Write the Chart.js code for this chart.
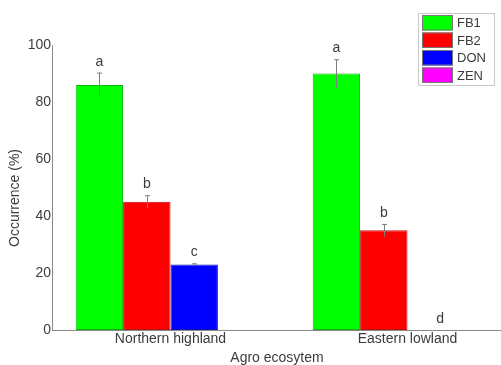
<!DOCTYPE html>
<html>
<head>
<meta charset="utf-8">
<script src="https://cdn.jsdelivr.net/npm/chart.js@4/dist/chart.umd.min.js"></script>
<style>
  html, body { margin: 0; padding: 0; background: #fff; overflow: hidden; }
  #wrap { position: absolute; left: 0; top: 0; width: 527px; height: 365px; }
</style>
</head>
<body>
<div id="wrap"><canvas id="c" width="527" height="365"></canvas></div>
<script>
// Agro-ecosystem groups
const categories = ['Northern highland', 'Eastern lowland'];

// Mycotoxin occurrence (%) per ecosystem
const toxins = ['FB1', 'FB2', 'DON', 'ZEN'];
const fb1 = [86, 90];
const fb2 = [45, 35];
const don = [23, 0];
const zen = [0, 0];

// Standard errors
const fb1Err = [4.3, 5];
const fb2Err = [2.3, 2.2];
const donErr = [0.4, 0];
const zenErr = [0, 0];

// Mean separation letters
const fb1Sig = ['a', 'a'];
const fb2Sig = ['b', 'b'];
const donSig = ['c', 'd'];
const zenSig = ['', ''];

const yTicks = [0, 20, 40, 60, 80, 100];

const fills = ['#00ff00', '#ff0000', '#0000ff', '#ff00ff'];
const edges = ['#10b010', '#c01010', '#1010b0', '#b010b0'];

const values = [fb1, fb2, don, zen];
const errors = [fb1Err, fb2Err, donErr, zenErr];
const letters = [fb1Sig, fb2Sig, donSig, zenSig];

const FONT = '"Liberation Sans", Arial, sans-serif';
const TXT = '#3c3c3c';

// Error whiskers, significance letters, boxed legend, axis titles
const annotate = {
  id: 'annotate',
  afterDatasetsDraw(chart) {
    const ctx = chart.ctx;
    const y = chart.scales.y;
    ctx.save();
    chart.data.datasets.forEach((ds, di) => {
      const meta = chart.getDatasetMeta(di);
      meta.data.forEach((bar, i) => {
        const v = values[di][i];
        const e = errors[di][i];
        const x = bar.x;
        if (e > 0) {
          const yt = y.getPixelForValue(v + e);
          const yb = y.getPixelForValue(v - e);
          ctx.strokeStyle = '#808080';
          ctx.lineWidth = 1;
          ctx.beginPath();
          ctx.moveTo(Math.round(x) + 0.5, yt);
          ctx.lineTo(Math.round(x) + 0.5, yb);
          ctx.moveTo(Math.round(x) - 2, yt + 0.5);
          ctx.lineTo(Math.round(x) + 3, yt + 0.5);
          ctx.stroke();
        }
        const s = letters[di][i];
        if (s) {
          const top = y.getPixelForValue(v + e);
          const dx = (v === 0) ? 9 : 0;
          ctx.fillStyle = TXT;
          ctx.font = '14px ' + FONT;
          ctx.textAlign = 'center';
          ctx.textBaseline = 'bottom';
          ctx.fillText(s, x + dx, top - 4);
        }
      });
    });

    // legend box
    const lx = 418, ly = 13, lw = 76, rowH = 17.5;
    ctx.fillStyle = '#fff';
    ctx.fillRect(lx, ly, lw, rowH * toxins.length + 2);
    ctx.strokeStyle = '#c8c8c8';
    ctx.lineWidth = 1;
    ctx.strokeRect(lx + 0.5, ly + 0.5, lw, rowH * toxins.length + 2);
    toxins.forEach((t, k) => {
      const ry = ly + 2 + k * rowH;
      ctx.fillStyle = fills[k];
      ctx.fillRect(lx + 4, ry, 31, 15.5);
      ctx.strokeStyle = '#777';
      ctx.strokeRect(lx + 4.5, ry + 0.5, 30, 14.5);
      ctx.fillStyle = TXT;
      ctx.font = '13px ' + FONT;
      ctx.textAlign = 'left';
      ctx.textBaseline = 'middle';
      ctx.fillText(t, lx + 39, ry + 8.5);
    });

    // axis titles
    ctx.fillStyle = TXT;
    ctx.font = '14px ' + FONT;
    ctx.textAlign = 'center';
    ctx.textBaseline = 'middle';
    ctx.fillText('Agro ecosytem', chart.chartArea.left + 225, 358);
    ctx.save();
    ctx.translate(15, chart.chartArea.top + 153);
    ctx.rotate(-Math.PI / 2);
    ctx.fillText('Occurrence (%)', 0, 0);
    ctx.restore();
    ctx.restore();
  }
};

new Chart(document.getElementById('c'), {
  type: 'bar',
  data: {
    labels: categories,
    datasets: toxins.map((t, k) => ({
      label: t,
      data: values[k],
      backgroundColor: fills[k],
      borderColor: edges[k],
      borderWidth: 1,
      borderSkipped: false,
      categoryPercentage: 0.8,
      barPercentage: 1.0
    }))
  },
  options: {
    responsive: false,
    devicePixelRatio: 1,
    animation: false,
    layout: { padding: { left: 0, right: 1, top: 45, bottom: 0 } },
    plugins: { legend: { display: false }, tooltip: { enabled: false } },
    scales: {
      x: {
        grid: { display: false, drawTicks: false },
        border: { display: true, color: '#888', width: 1 },
        ticks: { color: TXT, font: { family: FONT, size: 14 }, padding: 1, maxRotation: 0 },
        afterFit(scale) { scale.height = 35; }
      },
      y: {
        min: 0,
        max: 100,
        afterBuildTicks(scale) { scale.ticks = yTicks.map(v => ({ value: v })); },
        grid: { display: false, drawTicks: false },
        border: { display: true, color: '#888', width: 1 },
        ticks: { color: TXT, font: { family: FONT, size: 14 }, padding: 1 },
        afterFit(scale) { scale.width = 52; }
      }
    }
  },
  plugins: [annotate]
});
</script>
</body>
</html>
